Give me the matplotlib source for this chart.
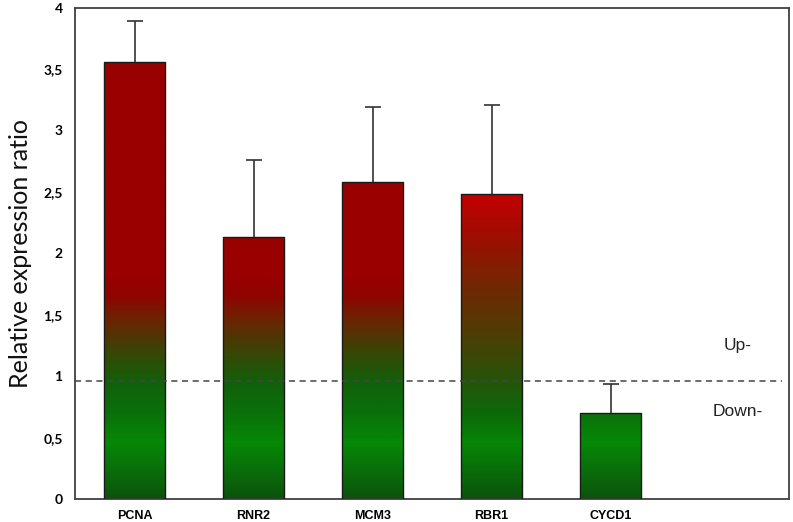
import numpy as np
import matplotlib
matplotlib.use("Agg")
import matplotlib.pyplot as plt
from matplotlib.colors import LinearSegmentedColormap, Normalize
from matplotlib.ticker import FuncFormatter

# Data
genes = ["PCNA", "RNR2", "MCM3", "RBR1", "CYCD1"]
ratio = [3.56, 2.13, 2.58, 2.48, 0.70]
err_upper = [0.33, 0.63, 0.61, 0.73, 0.24]
threshold = 0.96

# Gradient colour stops (value on y axis, colour)
stops_common = [
    (0.0, "#0b540b"), (0.2, "#0a6c0a"), (0.45, "#068806"), (0.7, "#0a700a"),
    (0.95, "#12600a"), (1.2, "#3a4506"), (1.45, "#6a2503"), (1.65, "#8e0500"),
    (1.8, "#990000"), (4.0, "#990000"),
]
stops_rbr1 = [
    (0.0, "#0b540b"), (0.45, "#068606"), (0.7, "#0d680a"), (1.0, "#2a5208"),
    (1.3, "#4a4004"), (1.7, "#6e2a02"), (2.1, "#9a1000"), (2.48, "#c40000"),
    (4.0, "#c40000"),
]


def make_cmap(stops, name):
    return LinearSegmentedColormap.from_list(
        name, [(v / 4.0, c) for v, c in stops]
    )


cmaps = {g: make_cmap(stops_common, "common") for g in genes}
cmaps["RBR1"] = make_cmap(stops_rbr1, "rbr1")

fig = plt.figure(figsize=(7.93, 5.22), dpi=100)
ax = fig.add_axes([0.0946, 0.044, 0.9004, 0.9416])

x = np.arange(len(genes))
width = 0.52
bars = ax.bar(x, ratio, width=width, color="none", edgecolor="#1a1a1a",
              linewidth=1.0, zorder=3)

norm = Normalize(0, 4)
for i, (bar, g) in enumerate(zip(bars, genes)):
    h = ratio[i]
    grad = np.linspace(0, h, 300).reshape(-1, 1)
    im = ax.imshow(grad, cmap=cmaps[g], norm=norm, origin="lower",
                   extent=[x[i] - width / 2, x[i] + width / 2, 0, h],
                   aspect="auto", zorder=2)
    im.set_clip_path(bar)

# upper error bars only
eb = ax.errorbar(x, ratio, yerr=[np.zeros(len(genes)), err_upper], fmt="none",
                 ecolor="#333333", elinewidth=1.2, capsize=6, capthick=1.2,
                 zorder=4)
eb[1][0].set_visible(False)

ax.axhline(threshold, xmin=0, xmax=0.99, color="#444444", linestyle=(0, (4, 3)),
           linewidth=1.1, zorder=5)

ax.text(5.07, 1.25, "Up-", fontsize=12.5, family="Liberation Sans",
        ha="center", va="center", color="#222222")
ax.text(5.07, 0.71, "Down-", fontsize=12.5, family="Liberation Sans",
        ha="center", va="center", color="#222222")

ax.set_xlim(-0.5, 5.5)
ax.set_ylim(0, 4)
ax.set_yticks(np.arange(0, 4.01, 0.5))
ax.yaxis.set_major_formatter(
    FuncFormatter(lambda v, p: ("%g" % v).replace(".", ","))
)
ax.set_xticks(x)
ax.set_xticklabels(genes, fontsize=9, fontweight="bold", family="Liberation Sans")
for lab in ax.get_yticklabels():
    lab.set_fontweight("bold")
    lab.set_family("Lato")
    lab.set_fontsize(10)
ax.tick_params(axis="both", length=0)
ax.tick_params(axis="y", pad=9)
ax.tick_params(axis="x", pad=8)

ax.set_ylabel("Relative expression ratio", fontsize=18, family="Lato",
              labelpad=8, color="#111111")

for side in ax.spines.values():
    side.set_color("#404040")
    side.set_linewidth(1.3)

plt.savefig("out.png", dpi=100)
